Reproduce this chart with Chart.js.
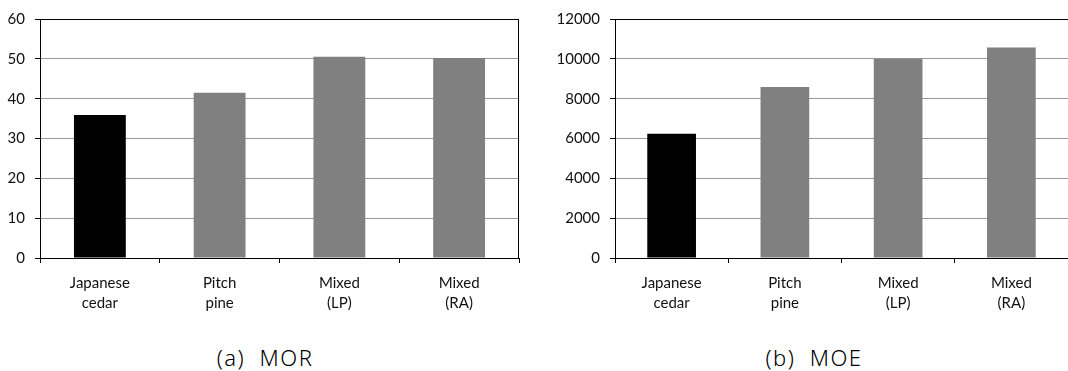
<!DOCTYPE html>
<html>
<head>
<meta charset="utf-8">
<script src="https://cdn.jsdelivr.net/npm/chart.js@4/dist/chart.umd.min.js"></script>
<style>
  body { margin: 0; background: #fff; width: 1068px; height: 371px; position: relative; overflow: hidden; }
  .box { position: absolute; top: 0; width: 534px; height: 320px; }
  .cap { position: absolute; top: 342px; width: 300px; text-align: center; white-space: pre;
         font-family: "Noto Sans", sans-serif; font-weight: 300; font-size: 22px; line-height: 30px;
         color: #000; letter-spacing: 1.5px; }
</style>
</head>
<body>
<div class="box" style="left:0"><canvas id="mor"></canvas></div>
<div class="box" style="left:534px"><canvas id="moe"></canvas></div>
<div class="cap" style="left:115px">(a)  MOR</div>
<div class="cap" style="left:664px">(b)  MOE</div>
<script>
'use strict';
// categories / values
var categories = [['Japanese', 'cedar'], ['Pitch', 'pine'], ['Mixed', '(LP)'], ['Mixed', '(RA)']];
var morValues = [35.9, 41.5, 50.5, 50.2];
var moeValues = [6240, 8590, 10000, 10570];
var barColors = ['#000000', '#808080', '#808080', '#808080'];

Chart.defaults.font.family = 'Lato, sans-serif';
Chart.defaults.font.size = 15;
Chart.defaults.color = '#111';

// black line on top and right of the plot area
var framePlugin = {
  id: 'frame',
  afterDatasetsDraw: function(chart) {
    var a = chart.chartArea, ctx = chart.ctx;
    ctx.save();
    ctx.strokeStyle = '#000';
    ctx.lineWidth = 1;
    ctx.beginPath();
    ctx.moveTo(a.left, a.top + 0.5);
    ctx.lineTo(a.right, a.top + 0.5);
    if (a.right < chart.width - 1) {
      ctx.moveTo(a.right - 0.5, a.top);
      ctx.lineTo(a.right - 0.5, a.bottom);
    }
    ctx.stroke();
    ctx.restore();
  }
};

function makeChart(id, values, max, step, axisWidth, padRight, barPct) {
  var ctx = document.getElementById(id).getContext('2d');
  return new Chart(ctx, {
    type: 'bar',
    data: {
      labels: categories,
      datasets: [{
        data: values,
        backgroundColor: barColors,
        borderWidth: 0,
        categoryPercentage: 1,
        barPercentage: barPct
      }]
    },
    options: {
      responsive: true,
      maintainAspectRatio: false,
      animation: false,
      layout: { padding: { top: 11, right: padRight, left: 0, bottom: 0 } },
      plugins: { legend: { display: false }, tooltip: { enabled: false } },
      scales: {
        x: {
          grid: { offset: true, drawOnChartArea: false, tickLength: 5, tickColor: '#000' },
          border: { color: '#000', width: 1 },
          ticks: { padding: 10, maxRotation: 0, font: { lineHeight: 1.33 } },
          afterFit: function(s) { s.height = 62; }
        },
        y: {
          min: 0,
          max: max,
          grid: { color: '#9a9a9a', tickLength: 5, tickColor: '#000' },
          border: { color: '#000', width: 1 },
          ticks: {
            stepSize: step,
            padding: 10,
            callback: function(v) { return String(v); }
          },
          afterFit: function(s) { s.width = axisWidth; }
        }
      }
    },
    plugins: [framePlugin]
  });
}

makeChart('mor', morValues, 60, 10, 40, 15, 0.433);
makeChart('moe', moeValues, 12000, 2000, 81, 0, 0.43);
</script>
</body>
</html>
